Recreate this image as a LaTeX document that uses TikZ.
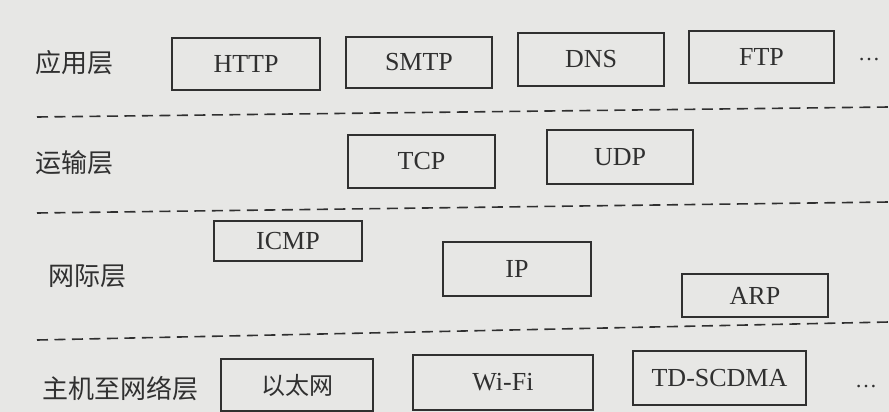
\documentclass[tikz,border=0pt]{standalone}
\usepackage{fontspec}
\setmainfont{Liberation Serif}
\newfontfamily\cjk{Noto Sans CJK SC}
\definecolor{paper}{RGB}{231,231,229}
\definecolor{ink}{RGB}{48,48,48}
\begin{document}
\begin{tikzpicture}[x=1pt,y=-1pt,
  box/.style={draw=ink, line width=1.3pt, text=ink, inner sep=0pt, font=\fontsize{26}{30}\selectfont},
  layer/.style={text=ink, inner sep=0pt, anchor=west, font=\cjk\fontsize{26}{30}\selectfont},
  sep/.style={draw=ink, line width=1.6pt, dash pattern=on 11pt off 6.5pt},
  dots/.style={text=ink, inner sep=0pt, font=\fontsize{22}{26}\selectfont}]
\fill[paper] (0,0) rectangle (889,412);
\useasboundingbox (0,0) rectangle (889,412);
% layer labels
\node[layer] (app) at (35,63) {应用层};
\node[layer] (trans) at (35,163) {运输层};
\node[layer] (net) at (48,276) {网际层};
\node[layer] (host) at (42,389) {主机至网络层};
% application layer
\node[box, minimum width=148, minimum height=52] (http) at (246,64) {HTTP};
\node[box, minimum width=146, minimum height=51] (smtp) at (419,62.5) {SMTP};
\node[box, minimum width=146, minimum height=53] (dns) at (591,59.5) {DNS};
\node[box, minimum width=145, minimum height=52] (ftp) at (761.5,57) {FTP};
\node[dots] (d1) at (869,60) {\ldots};
% transport layer
\node[box, minimum width=147, minimum height=53] (tcp) at (421.5,161.5) {TCP};
\node[box, minimum width=146, minimum height=54] (udp) at (620,157) {UDP};
% internet layer
\node[box, minimum width=148, minimum height=40] (icmp) at (288,241) {ICMP};
\node[box, minimum width=148, minimum height=54] (ip) at (517,269) {IP};
\node[box, minimum width=146, minimum height=43] (arp) at (755,295.5) {ARP};
% host-to-network layer
\node[box, minimum width=152, minimum height=52, font=\cjk\fontsize{24}{28}\selectfont] (eth) at (297,385) {以太网};
\node[box, minimum width=180, minimum height=55] (wifi) at (503,382.5) {Wi-Fi};
\node[box, minimum width=173, minimum height=54] (td) at (719.5,378) {TD-SCDMA};
\node[dots] (d2) at (866,387) {\ldots};
% separators
\coordinate (s1a) at (37,117); \coordinate (s1b) at (889,107);
\coordinate (s2a) at (37,213); \coordinate (s2b) at (889,202);
\coordinate (s3a) at (37,340); \coordinate (s3b) at (889,322);
\draw[sep] (s1a) -- (s1b);
\draw[sep] (s2a) -- (s2b);
\draw[sep] (s3a) -- (s3b);
\end{tikzpicture}
\end{document}
